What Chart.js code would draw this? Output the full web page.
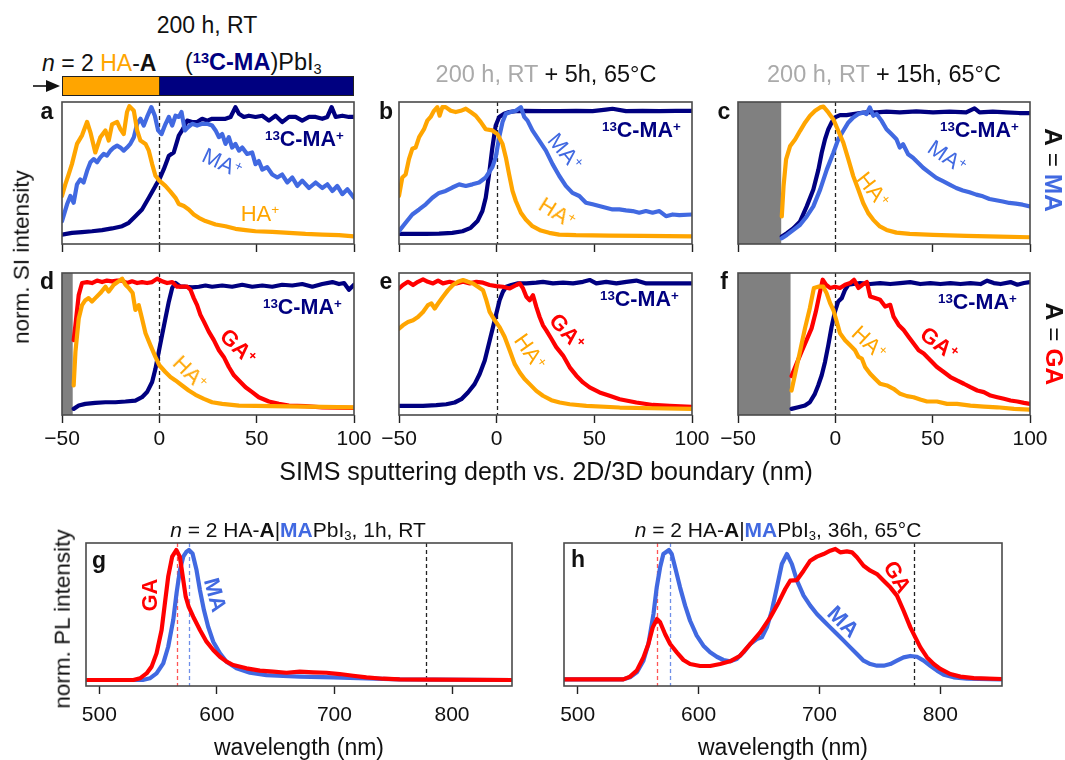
<!DOCTYPE html>
<html><head><meta charset="utf-8">
<script src="https://cdn.jsdelivr.net/npm/chart.js@4.4.0/dist/chart.umd.min.js"></script>
<style>
body{margin:0;width:1065px;height:760px;background:#fff;position:relative;overflow:hidden;font-family:"Liberation Sans",Arial,sans-serif;color:#111}
canvas{position:absolute}
.t{position:absolute;white-space:nowrap;line-height:1}
.sp{font-size:0.62em;vertical-align:0.5em;line-height:0}
.sb{font-size:0.62em;vertical-align:-0.25em;line-height:0}
</style></head><body>
<script>
// ---------------- DATA ----------------
const depthTicks=[-50,0,50,100];
const wlTicks=[500,600,700,800];
const depthRange=[-50,100];
const wlRange=[488.7,851];
const boundaryDepth=0;
const shadeEnds=[null,null,-27.8,-44.5,null,-23];   // a..f, start of measured data (grey = no data)
const plMarks=[566,576,778];                         // GA peak, MA peak, reference

// panel a (A = MA, 200 h RT)
const aHA=[[-50,31.5],[-48.3,41],[-46.6,49],[-44.9,57.5],[-42.3,74],[-39.7,81],[-37.1,92],[-35.4,83.5],[-32.9,67],[-30.3,79.5],[-27.7,85],[-26,76.7],[-24.3,90],[-21.7,92],[-20,86],[-18.3,82],[-16.6,100],[-15.4,104.7],[-13.1,101],[-11.4,85],[-9.7,76.7],[-7.1,74],[-5.4,68.5],[-3.7,57.5],[-2,48],[0,44],[3.1,39.7],[5.7,35],[8.3,30],[10,25],[12.6,23.3],[15.1,20.5],[17.7,16.4],[20.3,13.7],[23.7,11],[28.9,8.2],[34,6.8],[39.1,4.7],[44.3,3.6],[49.4,2.7],[58,2.2],[66.6,1.4],[75.1,0.5],[83.7,0],[92.3,-0.5],[100,-1.4]];
const aMA=[[-50,11],[-47.4,24.7],[-45.7,31.5],[-44,26],[-42.3,41],[-40.6,45],[-38.9,42.5],[-37.1,52],[-35.4,59],[-33.7,61.6],[-32,59],[-30.3,63],[-28.6,65.8],[-26.9,64.4],[-25.1,68.5],[-23.4,71],[-21.7,72.6],[-20,71],[-18.3,68.5],[-16.6,71],[-14.9,74],[-13.1,79.5],[-11.4,90.4],[-9.7,94.5],[-8,89],[-6.3,96],[-4.1,104],[-2.3,97],[-0.6,85],[1.1,82],[3.1,90],[4.9,96],[6.6,89],[8.3,97],[10,96],[11.4,100],[13.1,85],[14.8,87.7],[16.9,90.4],[19.4,89],[22,90.4],[24.6,90.4],[27.1,89],[28.9,85],[30.6,79.5],[32.3,82],[34,74],[35.7,79.5],[37.4,71],[39.1,74],[40.9,68.5],[42.6,71],[45.1,65.8],[47.7,67],[49.4,57.5],[51.1,60],[52.9,53],[55.4,55],[58,49],[60.6,46.6],[63.1,49],[65.7,42.5],[68.3,46.6],[70.9,39.7],[73.4,44],[76.9,38],[80.3,42.5],[83.7,38],[86.3,41],[88.9,35.6],[91.4,39.7],[94,33],[96.6,37],[100,30]];
const a13C=[[-50,0],[-44.9,1.4],[-39.7,2],[-34.6,2.7],[-29.4,3.6],[-24.3,5],[-19.1,6.8],[-15.7,9.6],[-12.3,15],[-8.9,20.5],[-5.4,30],[-2,39.7],[0,45],[2.3,53.4],[4.9,64.4],[7.4,67],[10,80.8],[11.7,85],[14.3,93],[16.9,91.8],[19.4,91.8],[22,94.5],[24.6,93],[27.1,94.5],[30.6,94.5],[34,94.5],[36.6,96],[39.1,104],[40.9,98.6],[43.4,96],[46,97],[49.4,96],[52.9,97],[56.3,93],[59.7,97],[63.1,91.8],[66.6,96],[70,96],[73.4,93],[76.9,96],[80.3,96],[83.7,94.5],[86.3,96],[88.5,104],[90.6,96],[94,97],[97.4,96],[100,96]];
// panel b (A = MA, +5 h 65 °C)
const bHA=[[-50,31.5],[-48.3,46.6],[-46.6,49],[-44.9,61.6],[-43.2,70],[-41.5,71],[-39.7,79.5],[-37.2,86],[-35.5,93],[-33.8,96],[-32.1,101],[-30.4,104],[-29.2,97],[-27.8,104],[-26.1,104],[-23.5,101],[-21,100],[-18.4,101],[-15.8,102.7],[-13.3,100],[-10.7,97],[-8.1,91.8],[-5.6,86],[-2.2,85],[0.4,82],[3,74],[4.7,63],[6.4,49],[8.1,35.6],[9.8,27.4],[12.4,17.8],[14.9,12.3],[18.3,6.8],[22.6,3.3],[26.9,1.4],[32,0],[40.6,-0.5],[57.6,-0.8],[74.7,-1.1],[100,-1.4]];
const bMA=[[-50,2.7],[-46.6,9.6],[-43.2,16.4],[-39.7,20.5],[-36.3,24.7],[-32.9,30],[-29.5,34],[-26.1,35.6],[-22.7,38.4],[-19.2,41],[-15.8,39.7],[-12.4,41],[-9,42.5],[-5.6,46.6],[-2.2,55],[-0.5,63],[1.3,79.5],[3,91.8],[4.7,98.6],[7.2,100],[9.8,101],[12.4,104],[14.1,96],[15.8,93],[18.3,85],[21.8,76.7],[25.2,68.5],[28.6,57.5],[32,48],[35.4,39.7],[38.8,34],[42.3,31.5],[45.7,26],[49.1,24.7],[52.5,23.3],[55.9,21.9],[59.3,20.5],[62.8,20.5],[66.2,19.7],[69.6,19.2],[73,17.8],[76.4,19.2],[79.8,17.8],[83.3,19.2],[86.7,15],[90.1,16.4],[93.5,15.9],[100,16.4]];
const b13C=[[-50,0.5],[-43.2,0.5],[-36.3,0.5],[-29.5,0.8],[-22.7,1.4],[-17.5,2.7],[-13.3,5.5],[-9.8,11],[-7.3,19.2],[-5.6,30],[-3.9,49],[-2.2,71],[-0.5,89],[1.3,96],[3.8,98.6],[6.4,100],[9.8,100.8],[14.9,101],[23.5,100.8],[32,100.8],[40.6,101],[49.1,100.8],[55.9,102],[59.3,102.7],[66.2,100.8],[74.7,101],[83.3,100.8],[91.8,101],[100,101]];
// panel c (A = MA, +15 h 65 °C)
const cHA=[[-27.5,14.8],[-26.6,39.5],[-25.3,61.4],[-23.2,72.3],[-20.6,77.8],[-18.1,84.7],[-15.5,91.5],[-13,97],[-10.4,101],[-7.8,103.8],[-6.1,104.4],[-3.6,99.7],[-1,94],[1.5,84.7],[4.1,75],[6.7,61.4],[9.2,47.7],[11.8,36.7],[14.3,25.8],[16.9,17.5],[19.5,12],[22.9,6.6],[26.3,3.8],[31.4,1.6],[38.2,0.5],[50.2,-0.3],[67.2,-1.1],[84.3,-1.6],[100,-2.2]];
const cMA=[[-27.5,-3],[-24.9,-0.3],[-21.5,3.8],[-18.1,8],[-14.7,14.8],[-11.3,23],[-7.8,36.7],[-4.4,53],[-1,66.8],[1.5,77.8],[4.1,84.7],[6.7,91.5],[9.2,95.6],[11.8,98.4],[14.3,99.7],[16,98.4],[17.7,103.8],[19.5,97],[21.2,98.4],[23.7,93],[26.3,86],[28.8,82],[31.4,77.8],[33.1,71],[34.8,73.7],[37.4,65.5],[39.9,62.7],[42.5,58.6],[45.1,54.5],[48.5,50.4],[51.9,46.3],[55.3,43.6],[58.7,40.8],[62.1,38],[65.5,36],[68.9,34.5],[72.4,32.6],[75.8,31.2],[79.2,29],[82.6,28],[86,27],[89.4,25.8],[92.8,25.2],[96.2,24.4],[100,23]];
const c13C=[[-27.5,-1.6],[-24.9,1.1],[-21.5,5.2],[-18.1,10.7],[-14.7,23],[-11.3,36.7],[-8.7,53],[-7,66.8],[-5.3,77.8],[-3.6,86],[-1.9,91.5],[-0.2,95.6],[2.4,97.5],[5.8,97.5],[9.2,98.4],[12.6,99.2],[16,99.7],[21.2,99.7],[26.3,100.3],[33.1,99.7],[41.6,100.5],[50.2,99.7],[58.7,100.3],[67.2,99.7],[71.5,103],[74.1,99.7],[80.9,100.3],[87.7,99.7],[94.5,99.2],[100,99.2]];
// panel d (A = GA, 200 h RT)
const dGA=[[-44,53.4],[-43.1,65.8],[-41.4,90.4],[-39.7,100],[-37.1,100.8],[-34.6,100],[-32,102],[-29.4,100.8],[-26.9,102],[-24.3,101.4],[-21.7,102],[-19.1,102],[-16.6,100],[-14,101.4],[-11.4,100],[-8.9,100.8],[-6.3,100],[-3.7,100.8],[-1.1,103.6],[1.4,101.4],[4,100],[6.6,100.8],[9.1,97],[11.7,97],[14.3,97],[16,94.5],[17.7,87.7],[19.4,82],[21.1,74],[22.9,68.5],[25.4,60.3],[28,53.4],[30.6,45.2],[33.1,39.7],[35.7,31.5],[38.3,24.7],[40.9,20.5],[44.3,15],[47.7,11],[51.1,6.8],[56.3,3.3],[61.4,1.4],[66.6,0],[75.1,-0.5],[83.7,-1.4],[100,-1.9]];
const dHA=[[-44,16.4],[-43.1,43.8],[-41.4,71],[-39.7,82],[-38,86],[-36.3,87.7],[-34.6,85],[-32.9,87.7],[-30.3,91.8],[-27.7,97],[-26,93],[-23.4,98.6],[-20.9,101.4],[-19.1,103.6],[-17.4,98.6],[-15.7,96],[-13.7,91.8],[-12.3,78],[-10.6,82],[-8.9,71],[-7.1,59],[-4.6,49.3],[-2,39.7],[0,32.9],[3.1,27.4],[5.7,23.3],[8.3,20.5],[11.7,16.4],[15.1,12.3],[18.6,8.8],[22.9,5.5],[27.1,2.7],[32.3,1.4],[40.9,0],[58,-0.5],[75.1,-0.8],[100,-1.4]];
const d13C=[[-44,-2.7],[-41.4,0],[-38,1.4],[-32.9,2.2],[-27.7,2.7],[-22.6,2.7],[-17.4,3.3],[-12.3,4.1],[-8.9,6.8],[-6.3,11],[-3.7,19.2],[-2,30],[-0.3,43.8],[1.4,57.5],[3.1,71],[4.9,85],[6.6,96],[8.3,100],[10.9,97],[13.4,97],[16.9,96.4],[20.3,97],[23.7,98],[27.1,97],[32.3,98],[37.4,97],[42.6,98.6],[47.7,97],[52.9,98],[58,97],[63.1,98.6],[68.3,98],[73.4,99.2],[78.6,97],[83.7,99.2],[88.9,100.8],[92.3,99.2],[94.9,100],[97.4,94.5],[100,98.6]];
// panel e (A = GA, +5 h 65 °C)
const eGA=[[-50,95.6],[-48,98.4],[-45.4,101],[-42.8,98.4],[-40.3,101],[-37.7,103],[-35.2,101],[-32.6,99.7],[-30,102],[-27.5,99.7],[-24.1,101],[-20.6,99.7],[-17.2,101],[-13.8,99.7],[-10.4,101],[-7,100.3],[-3.6,98.4],[-0.2,97.5],[3.2,97],[6.7,95.6],[10.1,98.4],[11.8,99.7],[13.5,95.6],[15.2,88.8],[16.9,86],[18.6,90],[20.3,80.5],[22,72.3],[23.7,65.5],[25.4,61.4],[28,54.5],[30.5,47.7],[34,40.8],[37.4,31.2],[40.8,24.4],[44.2,18.9],[47.6,14.8],[52.7,10.7],[57.8,8],[63,5.2],[71.5,2.5],[80,0.5],[88.6,-0.3],[100,-1.1]];
const eHA=[[-50,62.7],[-48,65.5],[-45.4,68.2],[-42.8,69.6],[-40.3,72.3],[-37.7,76.4],[-35.2,82],[-33.4,83.3],[-31.7,79.2],[-30,83.3],[-27.5,88.8],[-24.9,94.2],[-22.4,98.4],[-19.8,101],[-17.2,102.5],[-14.7,101],[-12.1,99.7],[-9.6,97],[-7,94.2],[-5.3,86],[-3.6,76.4],[-1,69.6],[1.5,64],[4.1,55.9],[6.7,45],[9.2,34],[11.8,27],[14.3,21.6],[16.9,17.5],[20.3,12],[23.7,8],[28,4.4],[32.3,2.5],[37.4,1.1],[45.9,-0.3],[63,-1.6],[80,-2.2],[100,-2.7]];
const e13C=[[-50,-0.3],[-44.5,-0.3],[-37.7,-0.3],[-30.9,0.3],[-25.8,1.1],[-21.5,2.5],[-18.1,5.2],[-14.7,10.7],[-11.3,17.5],[-8.7,25.8],[-6.1,36.7],[-3.6,53],[-1.9,64],[-0.2,75],[1.5,86],[3.2,92.9],[4.9,97],[7.5,98.4],[10.9,99.7],[15.2,99.7],[20.3,100.3],[23.7,101],[28.8,99.7],[34,100.3],[39.1,99.7],[44.2,101],[47.6,102.5],[51,99.7],[56.1,101],[61.3,99.7],[66.4,101],[71.5,102],[76.6,99.7],[81.7,99.7],[88.6,99.7],[100,99.7]];
// panel f (A = GA, +15 h 65 °C)
const fGA=[[-22.5,24.1],[-19.9,34.2],[-17.4,43.8],[-14.8,53.4],[-12.2,63],[-10,76.7],[-8.2,90.4],[-6.5,102.7],[-4.8,98.6],[-2.7,96],[-0.2,97],[2.4,96],[5,98.6],[7.6,100],[9.6,102.7],[11.9,96],[13.9,98.6],[16.2,100.8],[17.9,89],[20.4,87.7],[23,86.3],[25.6,80.8],[28.2,82.2],[29.9,72.6],[32.5,65.8],[35.1,61.6],[37.6,56.2],[40.2,50.7],[42.8,45.2],[45.4,42.5],[48.8,37],[52.2,31.5],[55.7,27.4],[59.1,23.3],[62.5,20.5],[66,17.8],[69.4,15],[72.9,12.3],[76.3,11],[79.7,8.2],[83.2,6.8],[86.6,5.5],[90,4.1],[93.5,3.3],[96.9,2.2],[100,1.4]];
const fHA=[[-22.5,12.3],[-20.8,24.7],[-18.2,43.8],[-15.6,63],[-13.1,79.5],[-11,96],[-8.8,97],[-6.2,97],[-4.5,91.8],[-2.7,83.6],[-1,78],[0.7,68.5],[2.4,59],[5,53.4],[7.6,49.3],[10.1,45.2],[11.9,39.7],[13.6,38.4],[15.3,31.5],[17.9,26],[20.4,21.9],[23,17.8],[26.5,16.4],[29.9,13.7],[33.3,9.6],[36.8,7.7],[40.2,6.8],[43.6,4.9],[47.1,3.3],[52.2,3.3],[57.4,1.4],[62.5,1.4],[69.4,0],[76.3,-0.8],[83.2,-1.4],[91.8,-2.7],[100,-3.3]];
const f13C=[[-22.5,-2.7],[-19.1,-1.4],[-15.6,0],[-13.1,2.7],[-10.5,9.6],[-8.8,16.4],[-7,24.7],[-5.3,35.6],[-3.6,49.3],[-1.9,64.4],[-0.2,76.7],[1.5,85],[3.3,87.7],[5,94.5],[6.7,98.6],[9.3,99.2],[12.7,100],[17.9,99.2],[23,100],[28.2,99.2],[33.3,100],[38.5,100.8],[43.6,99.2],[48.8,100],[54,99.2],[59.1,100],[64.3,99.2],[69.4,100],[74.6,99.2],[78,101.9],[81.4,100],[84.9,99.2],[90,100.8],[93.5,98.6],[96.9,100],[100,100.8]];
// panel g (PL, 1 h RT)
const gGA=[[488.7,0],[529,0],[534.6,0.013],[540.2,0.051],[544.5,0.103],[548.7,0.205],[553,0.385],[555.8,0.59],[558.6,0.795],[562,0.949],[565.5,1.0],[568.5,0.949],[571,0.795],[573.5,0.641],[576,0.564],[579.9,0.487],[585.6,0.385],[591.2,0.295],[596.9,0.231],[602.6,0.179],[608.2,0.141],[613.9,0.115],[625.2,0.09],[636.6,0.072],[647.9,0.064],[659.2,0.056],[670.5,0.064],[681.9,0.059],[693.2,0.056],[704.5,0.046],[715.9,0.033],[727.2,0.021],[741.4,0.01],[755.5,0.005],[783.9,0.003],[851,0]];
const gMA=[[488.7,0],[537,0],[543,0.013],[548.7,0.051],[554.4,0.128],[558.6,0.256],[562.9,0.462],[565.7,0.667],[568.6,0.846],[571.4,0.949],[574.2,0.987],[576.3,1.0],[579.3,0.974],[582.7,0.846],[585.6,0.692],[589,0.538],[592.6,0.41],[596.9,0.295],[602.6,0.205],[608.2,0.141],[616.7,0.09],[628.1,0.056],[642.2,0.038],[656.4,0.031],[670.5,0.026],[698.9,0.021],[727.2,0.013],[755.5,0.005],[851,0]];
// panel h (PL, 36 h 65 °C)
const hGA=[[488.7,0.005],[537.8,0.005],[543.3,0.026],[548.9,0.072],[554.4,0.174],[558.5,0.277],[562.1,0.405],[565.6,0.469],[568.2,0.444],[572.3,0.354],[576.5,0.277],[582,0.213],[587.5,0.154],[593,0.123],[601.3,0.108],[609.6,0.108],[617.9,0.123],[626.1,0.144],[634.4,0.187],[642.7,0.277],[651,0.367],[659.3,0.482],[666.2,0.597],[671.7,0.7],[675.8,0.764],[681.4,0.769],[686.9,0.841],[692.4,0.918],[697.9,0.949],[703.4,0.969],[708.9,0.995],[713.1,1.008],[717.2,0.982],[722.7,0.99],[726.9,0.982],[731,0.944],[736.5,0.879],[742.1,0.841],[747.6,0.815],[753.1,0.764],[758.6,0.713],[764.1,0.649],[769.6,0.533],[775.2,0.405],[779.3,0.328],[783.5,0.251],[789,0.174],[794.5,0.123],[800,0.085],[808.3,0.046],[816.6,0.026],[827.6,0.015],[851,0.008]];
const hMA=[[488.7,0.005],[537.8,0.005],[543.3,0.021],[548.9,0.059],[554.4,0.149],[558.5,0.277],[562.7,0.508],[565.4,0.713],[568.2,0.867],[570.9,0.969],[575.5,1.0],[577.8,0.969],[580.6,0.867],[584.7,0.713],[588.9,0.572],[593,0.456],[598.5,0.341],[604,0.264],[609.6,0.213],[615.1,0.179],[620.6,0.154],[626.1,0.144],[631.6,0.162],[637.2,0.213],[642.7,0.277],[648.2,0.315],[652.4,0.328],[656.5,0.405],[660.6,0.533],[664.8,0.713],[668.9,0.892],[673.1,0.969],[677.2,0.892],[681.4,0.764],[686.9,0.649],[692.4,0.572],[697.9,0.508],[703.4,0.456],[708.9,0.405],[714.5,0.354],[720,0.303],[725.5,0.251],[731,0.2],[736.5,0.149],[742.1,0.123],[747.6,0.11],[753.1,0.11],[758.6,0.123],[764.1,0.149],[769.6,0.174],[775.2,0.185],[780.7,0.179],[786.2,0.149],[791.7,0.11],[797.3,0.072],[802.8,0.041],[811,0.021],[822.1,0.01],[851,0.005]];

// ---------------- STYLE / LAYOUT ----------------
const FONT='"Liberation Sans", Arial, sans-serif';
const COL={HA:'#FFA500',MA:'#4169E1',C13:'#000080',GA:'#FF0000'};
const SIMS_Y=[-7.7,108.2], PL_Y=[-0.046,1.054];

const deco={
  id:'deco',
  beforeDatasetsDraw(chart,args,o){
    const {ctx,chartArea:a,scales:{x}}=chart;
    ctx.save();
    if(o.shade!=null){
      ctx.fillStyle='#808080';
      const xs=x.getPixelForValue(x.min), xe=x.getPixelForValue(o.shade);
      ctx.fillRect(xs,a.top,xe-xs,a.bottom-a.top);
    }
    (o.vlines||[]).forEach(v=>{
      ctx.strokeStyle=v.color; ctx.lineWidth=1.3; ctx.setLineDash([4,3]);
      const px=Math.round(x.getPixelForValue(v.value))+0.5;
      ctx.beginPath(); ctx.moveTo(px,a.top); ctx.lineTo(px,a.bottom); ctx.stroke();
    });
    ctx.restore();
  },
  afterDraw(chart){
    const {ctx,chartArea:a}=chart;
    ctx.save(); ctx.strokeStyle='#4a4a4a'; ctx.lineWidth=1.6; ctx.setLineDash([]);
    ctx.strokeRect(a.left,a.top,a.right-a.left,a.bottom-a.top); ctx.restore();
  }
};

function pts(arr){return arr.map(p=>({x:p[0],y:p[1]}));}
function ds(arr,color){return {data:pts(arr),borderColor:color,borderWidth:4.2,pointRadius:0,fill:false,tension:0,borderJoinStyle:'round',borderCapStyle:'round'};}

function makeChart(g,datasets,cfg){
  const PL=34,PR=34,PT=6,B=cfg.labels?48:10;
  const cv=document.createElement('canvas');
  cv.width=g.w+PL+PR; cv.height=g.h+PT+B;
  cv.style.left=(g.l-PL)+'px'; cv.style.top=(g.t-PT)+'px';
  cv.style.width=cv.width+'px'; cv.style.height=cv.height+'px';
  document.body.appendChild(cv);
  new Chart(cv,{type:'line',data:{datasets},plugins:[deco],options:{
    responsive:false,animation:false,devicePixelRatio:1,
    layout:{padding:{left:PL,right:PR,top:PT,bottom:0}},
    plugins:{legend:{display:false},tooltip:{enabled:false},deco:cfg.deco},
    scales:{
      x:{type:'linear',min:cfg.range[0],max:cfg.range[1],offset:false,
        afterBuildTicks:s=>{s.ticks=cfg.ticks.map(v=>({value:v}));},
        afterFit:s=>{s.height=B;},
        border:{display:false},
        grid:{display:true,drawOnChartArea:false,drawTicks:true,tickLength:8,tickWidth:1.4,tickColor:'#222'},
        ticks:{display:cfg.labels,font:{family:FONT,size:21},color:'#111',padding:cfg.pad||4,maxRotation:0,autoSkip:false,
          callback:v=>String(v).replace('-','\u2212')}
      },
      y:{display:false,min:cfg.yr[0],max:cfg.yr[1]}
    }
  }});
}

const PAN={
  a:{l:62,t:102,w:292,h:142}, b:{l:399,t:102,w:293,h:142}, c:{l:738,t:102,w:292,h:142},
  d:{l:62,t:273,w:292,h:142}, e:{l:399,t:273,w:293,h:142}, f:{l:738,t:273,w:292,h:142},
  g:{l:86,t:543,w:426,h:143}, h:{l:564,t:543,w:438,h:143}
};
const simsDeco=i=>({shade:shadeEnds[i],vlines:[{value:boundaryDepth,color:'#222'}]});
const simsCfg=(i,labels)=>({range:depthRange,ticks:depthTicks,labels,yr:SIMS_Y,deco:simsDeco(i),pad:4});

makeChart(PAN.a,[ds(aHA,COL.HA),ds(aMA,COL.MA),ds(a13C,COL.C13)],simsCfg(0,false));
makeChart(PAN.b,[ds(bHA,COL.HA),ds(bMA,COL.MA),ds(b13C,COL.C13)],simsCfg(1,false));
makeChart(PAN.c,[ds(cHA,COL.HA),ds(cMA,COL.MA),ds(c13C,COL.C13)],simsCfg(2,false));
makeChart(PAN.d,[ds(dHA,COL.HA),ds(dGA,COL.GA),ds(d13C,COL.C13)],simsCfg(3,true));
makeChart(PAN.e,[ds(eHA,COL.HA),ds(eGA,COL.GA),ds(e13C,COL.C13)],simsCfg(4,true));
makeChart(PAN.f,[ds(fHA,COL.HA),ds(fGA,COL.GA),ds(f13C,COL.C13)],simsCfg(5,true));
const plDeco={vlines:[{value:plMarks[0],color:'#ff5555'},{value:plMarks[1],color:'#6f8fe8'},{value:plMarks[2],color:'#222'}]};
makeChart(PAN.g,[ds(gGA,COL.GA),ds(gMA,COL.MA)],{range:wlRange,ticks:wlTicks,labels:true,yr:PL_Y,deco:plDeco,pad:9});
makeChart(PAN.h,[ds(hGA,COL.GA),ds(hMA,COL.MA)],{range:wlRange,ticks:wlTicks,labels:true,yr:PL_Y,deco:plDeco,pad:9});

// ---------------- TEXT ----------------
function txt(html,x,y,o={}){
  const d=document.createElement('div'); d.className='t'; d.innerHTML=html;
  d.style.left=x+'px'; d.style.top=y+'px';
  d.style.fontSize=(o.size||21)+'px';
  if(o.bold) d.style.fontWeight='bold';
  if(o.color) d.style.color=o.color;
  const tx=o.left?'0':'-50%';
  d.style.transform=`translate(${tx},-50%) rotate(${o.rot||0}deg)`;
  document.body.appendChild(d);
}
const sp=s=>`<span class="sp">${s}</span>`, sb=s=>`<span class="sb">${s}</span>`;
const C13=`${sp('13')}C-MA${sp('+')}`;

// header
txt('200 h, RT',207,25,{size:23});
txt(`<i>n</i> = 2 <span style="color:${COL.HA}">HA</span>-<b>A</b>`,42,63,{size:23,left:true});
txt(`(<b style="color:${COL.C13}">${sp('13')}C-MA</b>)PbI${sb('3')}`,185,63,{size:23.5,left:true});
txt('<span style="color:#aaa">200 h, RT</span> + 5h, 65°C',546,75,{size:23.5});
txt('<span style="color:#aaa">200 h, RT</span> + 15h, 65°C',884,75,{size:23.5});
// composition bar (split at boundary of panel a scale)
(function(){
  const g=PAN.a, xb=g.l+(boundaryDepth-depthRange[0])/(depthRange[1]-depthRange[0])*g.w;
  const mk=(l,w,c)=>{const d=document.createElement('div');d.style.cssText=`position:absolute;left:${l}px;top:76px;width:${w}px;height:20px;background:${c};box-sizing:border-box;border:1.5px solid #222`;document.body.appendChild(d);};
  mk(g.l,xb-g.l+1,COL.HA); mk(xb,g.l+g.w-xb,COL.C13);
  const ar=document.createElement('div');
  ar.innerHTML='<svg width="30" height="14"><line x1="0" y1="7" x2="16" y2="7" stroke="#111" stroke-width="1.6"/><polygon points="13,1 27,7 13,13" fill="#111"/></svg>';
  ar.style.cssText='position:absolute;left:33px;top:79px';
  document.body.appendChild(ar);
})();

// panel letters
[['a',47,111],['b',386,111],['c',724,111],['d',47,281],['e',386,281],['f',724,281],['g',99,560],['h',578,559]]
  .forEach(([s,x,y])=>txt(s,x,y,{size:23,bold:true}));

// series labels SIMS
txt(C13,265,140,{size:21.5,bold:true,color:COL.C13,left:true});
txt(`MA${sp('+')}`,222,163,{size:22,color:COL.MA,rot:25});
txt(`HA${sp('+')}`,260,214,{size:22,color:COL.HA});
txt(C13,602,131,{size:21.5,bold:true,color:COL.C13,left:true});
txt(`MA${sp('+')}`,565,152,{size:22,color:COL.MA,rot:50});
txt(`HA${sp('+')}`,557,213,{size:22,color:COL.HA,rot:32});
txt(C13,940,131,{size:21.5,bold:true,color:COL.C13,left:true});
txt(`MA${sp('+')}`,947,157,{size:22,color:COL.MA,rot:34});
txt(`HA${sp('+')}`,873,190,{size:22,color:COL.HA,rot:52});
txt(C13,263,308,{size:21.5,bold:true,color:COL.C13,left:true});
txt(`GA${sp('+')}`,238,347,{size:22,bold:true,color:COL.GA,rot:45});
txt(`HA${sp('+')}`,190,373,{size:22,color:COL.HA,rot:45});
txt(C13,600,300,{size:21.5,bold:true,color:COL.C13,left:true});
txt(`GA${sp('+')}`,567,332,{size:22,bold:true,color:COL.GA,rot:48});
txt(`HA${sp('+')}`,530,352,{size:22,color:COL.HA,rot:55});
txt(C13,938,303,{size:21.5,bold:true,color:COL.C13,left:true});
txt(`GA${sp('+')}`,939,344,{size:22,bold:true,color:COL.GA,rot:37});
txt(`HA${sp('+')}`,869,343,{size:22,color:COL.HA,rot:43});
// A = MA / A = GA
txt(`<b>A</b> = <b style="color:${COL.MA}">MA</b>`,1053,170,{size:24.5,rot:90});
txt(`<b>A</b> = <b style="color:${COL.GA}">GA</b>`,1054,344,{size:24.5,rot:90});
// PL labels
txt('GA',150,595,{size:22,bold:true,color:COL.GA,rot:-90});
txt('MA',215,595,{size:22,bold:true,color:COL.MA,rot:75});
txt('GA',897,577,{size:22,bold:true,color:COL.GA,rot:60});
txt('MA',843,622,{size:22,bold:true,color:COL.MA,rot:45});
// PL titles
txt(`<i>n</i> = 2 HA-<b>A</b>|<b style="color:${COL.MA}">MA</b>PbI${sb('3')}, 1h, RT`,298,529,{size:21});
txt(`<i>n</i> = 2 HA-<b>A</b>|<b style="color:${COL.MA}">MA</b>PbI${sb('3')}, 36h, 65°C`,778,529,{size:21});
// axis titles
txt('norm. SI intensity',22,257,{size:22.5,rot:-90});
txt('norm. PL intensity',63,619,{size:22.5,rot:-90});
txt('SIMS sputtering depth vs. 2D/3D boundary (nm)',546,471,{size:25});
txt('wavelength (nm)',299,747,{size:23});
txt('wavelength (nm)',783,747,{size:23});
</script>
</body></html>
